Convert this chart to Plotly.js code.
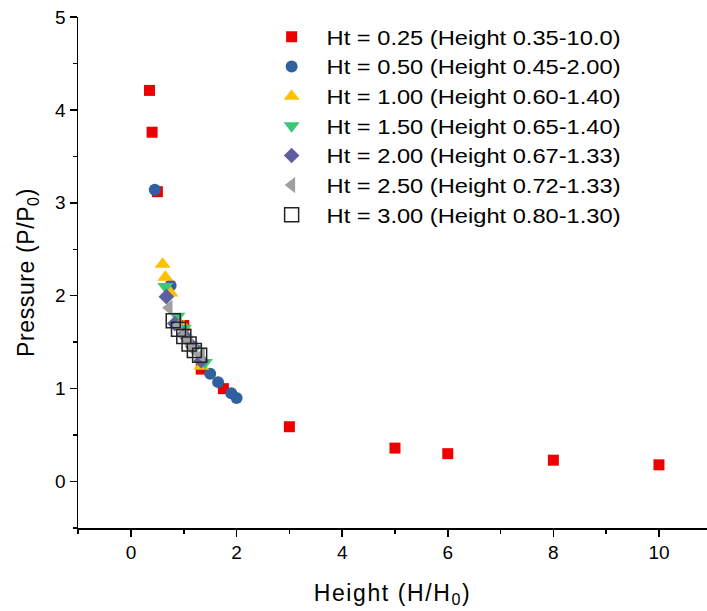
<!DOCTYPE html>
<html>
<head>
<meta charset="utf-8">
<script src="https://cdn.plot.ly/plotly-3.0.1.min.js"></script>
<style>
html,body{margin:0;padding:0;background:#fff;}
#chart{width:707px;height:611px;}
#chart .legendtext{transform-box:fill-box;transform-origin:0% 50%;transform:scaleX(1.155);}
#chart .xtitle{letter-spacing:1.6px;}
#chart .ytitle{letter-spacing:0.6px;}
</style>
</head>
<body>
<div id="chart"></div>
<script>
// Series names
const seriesNames = [
  "Ht = 0.25 (Height 0.35-10.0)",
  "Ht = 0.50 (Height 0.45-2.00)",
  "Ht = 1.00 (Height 0.60-1.40)",
  "Ht = 1.50 (Height 0.65-1.40)",
  "Ht = 2.00 (Height 0.67-1.33)",
  "Ht = 2.50 (Height 0.72-1.33)",
  "Ht = 3.00 (Height 0.80-1.30)"
];

// Ht = 0.25
const h025 = [0.35, 0.40, 0.50, 1.00, 1.33, 1.75, 3, 5, 6, 8, 10];
const p025 = [4.21, 3.76, 3.12, 1.68, 1.21, 1.00, 0.59, 0.36, 0.30, 0.23, 0.18];
// Ht = 0.50
const h050 = [0.45, 0.75, 1.50, 1.65, 1.90, 2.00];
const p050 = [3.14, 2.11, 1.16, 1.07, 0.95, 0.90];
// Ht = 1.00
const h100 = [0.60, 0.65, 0.75, 1.00, 1.33];
const p100 = [2.34, 2.20, 2.03, 1.67, 1.24];
// Ht = 1.50
const h150 = [0.65, 0.88, 1.00, 1.20, 1.40];
const p150 = [2.10, 1.78, 1.65, 1.43, 1.28];
// Ht = 2.00
const h200 = [0.67, 0.83, 1.00, 1.17, 1.33];
const p200 = [1.99, 1.70, 1.58, 1.45, 1.30];
// Ht = 2.50
const h250 = [0.72, 0.90, 1.00, 1.10, 1.20, 1.33];
const p250 = [1.87, 1.68, 1.57, 1.49, 1.42, 1.36];
// Ht = 3.00
const h300 = [0.80, 0.90, 1.00, 1.10, 1.20, 1.30];
const p300 = [1.73, 1.64, 1.56, 1.48, 1.41, 1.36];

const xs = [h025, h050, h100, h150, h200, h250, h300];
const ys = [p025, p050, p100, p150, p200, p250, p300];
const styles = [
  {symbol: 'square', color: '#ee0000', size: 11},
  {symbol: 'circle', color: '#30619f', size: 12},
  {symbol: 'triangle-up', color: '#ffc000', size: 14},
  {symbol: 'triangle-down', color: '#3cc878', size: 14},
  {symbol: 'diamond', color: '#5f5fa0', size: 12},
  {symbol: 'triangle-left', color: '#a0a0a0', size: 14},
  {symbol: 'square-open', color: '#222222', size: 14, line: {color: '#222222', width: 1.5}}
];

const traces = xs.map((x, i) => ({
  type: 'scatter',
  mode: 'markers',
  name: seriesNames[i],
  x: x,
  y: ys[i],
  marker: Object.assign({symbol: styles[i].symbol, color: styles[i].color, size: styles[i].size},
    styles[i].line ? {line: styles[i].line} : {line: {width: 0}})
}));

const fontFam = '"Liberation Sans", Arial, sans-serif';
const layout = {
  width: 707, height: 611,
  margin: {l: 78, r: 0, t: 17, b: 83},
  paper_bgcolor: '#fff', plot_bgcolor: '#fff',
  font: {family: fontFam, color: '#000', size: 19},
  showlegend: true,
  legend: {
    x: 0.284, y: 1.0, xanchor: 'left', yanchor: 'top',
    font: {family: fontFam, size: 20.5, color: '#000'},
    itemwidth: 60, bgcolor: 'rgba(0,0,0,0)', borderwidth: 0
  },
  xaxis: {
    range: [-1.004, 10.91],
    tickvals: [0, 2, 4, 6, 8, 10],
    ticks: 'outside', ticklen: 7, tickwidth: 1.5, tickcolor: '#000',
    minor: {dtick: 1, tick0: 1, ticks: 'outside', ticklen: 4, tickwidth: 1.5, tickcolor: '#000'},
    showline: true, linecolor: '#000', linewidth: 1.5,
    showgrid: false, zeroline: false,
    tickfont: {size: 19},
    title: {text: 'Height (H/H<sub>0</sub>)', font: {size: 23}, standoff: 22}
  },
  yaxis: {
    range: [-0.5, 5],
    tickvals: [0, 1, 2, 3, 4, 5],
    ticks: 'outside', ticklen: 7, tickwidth: 1.5, tickcolor: '#000',
    minor: {dtick: 0.5, tick0: 0.5, ticks: 'outside', ticklen: 4, tickwidth: 1.5, tickcolor: '#000'},
    showline: true, linecolor: '#000', linewidth: 1.5,
    showgrid: false, zeroline: false,
    tickfont: {size: 19},
    title: {text: 'Pressure (P/P<sub>0</sub>)', font: {size: 23}, standoff: 14}
  }
};

Plotly.newPlot('chart', traces, layout, {displayModeBar: false, staticPlot: true}).then(function () {
  // widen the legend clip so the horizontally stretched legend text is not cut
  document.querySelectorAll('#chart clipPath').forEach(function (cp) {
    if (cp.id.indexOf('legend') === 0) {
      cp.querySelectorAll('rect').forEach(function (r) { r.setAttribute('width', '460'); });
    }
  });
});
</script>
</body>
</html>
